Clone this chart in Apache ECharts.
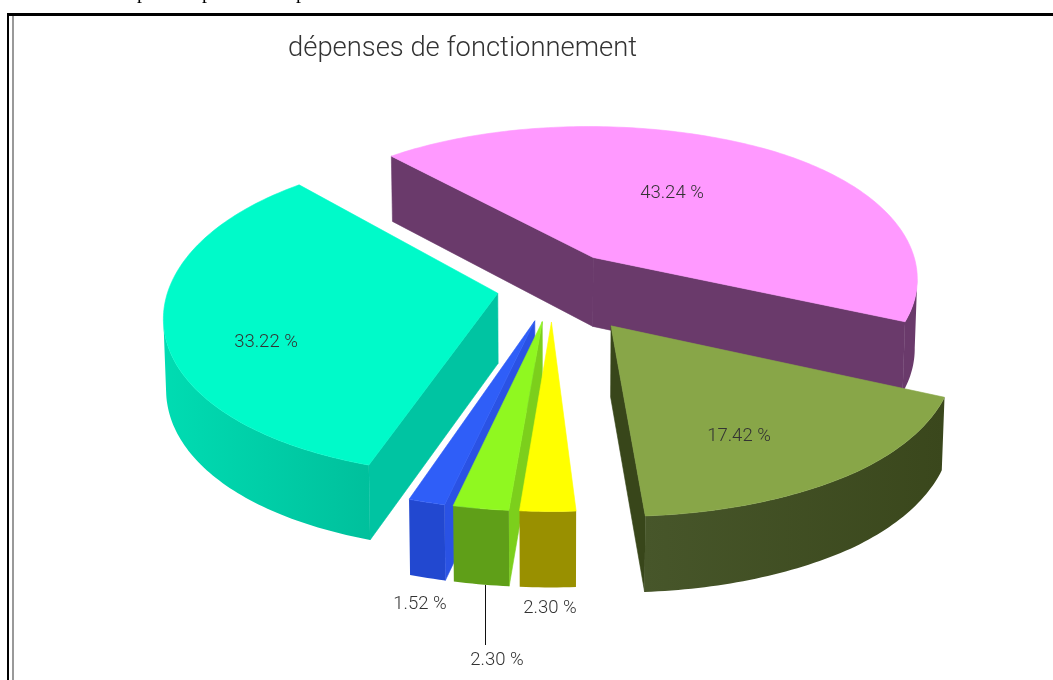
<!DOCTYPE html>
<html>
<head>
<meta charset="utf-8">
<style>
  html, body { margin: 0; padding: 0; background: #fff; }
  #chart { width: 1053px; height: 680px; }
</style>
<script src="https://cdn.jsdelivr.net/npm/echarts@6/dist/echarts.min.js"></script>
</head>
<body>
<div id="chart"></div>
<script>
// chart data
const categories = ['rose', 'olive', 'jaune', 'vert', 'bleu', 'turquoise'];
const shares = [43.24, 17.42, 2.30, 2.30, 1.52, 33.22];

// slice styles, same order as the data
const topColors = ['#ff99ff', '#88a648', '#ffff00', '#90f820', '#2f5ef8', '#00fac9'];
const wallLeft = ['#6a3a6b', '#47562a', '#999000', '#5f9f18', '#2248d0', '#00dcb2'];
const wallRight = ['#6a3a6b', '#3a471c', '#999000', '#5f9f18', '#2248d0', '#00c09c'];
const cutColors = ['#6a3a6b', '#38461a', '#999000', '#7ccf1c', '#2a52e4', '#00c4a2'];
const explode = [85, 93, 64, 64, 64, 56];
const pullTurn = [-5, -4.5, 0, 0, 0, 7];
const drawOrder = [0, 5, 1, 4, 3, 2];
const labelAnchors = [[672, 193], [739, 436], [550, 608], [497, 660], [420, 604], [266, 342]];

// projection of the tilted disc
const CX = 552, CY = 291, RADIUS = 340, TILT = 0.4728, PERSP = 3.82e-4;
const DEPTH = 70, DEPTH_PERSP = 2.1e-4, START_ANGLE = 228;

const FONT = "Roboto, 'Liberation Sans', sans-serif";

function project(u, v) {
  const s = 1 + PERSP * v;
  // the sides of the disc are a little narrower than a true ellipse
  const t = Math.min(1, Math.abs(v) / RADIUS);
  const pinch = 1 - 0.03 * (1 - t * t);
  return { x: CX + u * s * pinch, y: CY + v * TILT * s, v };
}

function lower(p) {
  return [p.x + (CX - p.x) * 0.007, p.y + DEPTH * (1 + DEPTH_PERSP * p.v)];
}

const total = shares.reduce((a, b) => a + b, 0);
const startAngles = [];
shares.reduce((angle, share, i) => {
  startAngles[i] = angle;
  return angle + (share / total) * 360;
}, START_ANGLE);

function renderSlice(params, api) {
  const i = api.value(0);
  const from = startAngles[i];
  const sweep = (shares[i] / total) * 360;
  const mid = ((from + sweep / 2 + pullTurn[i]) * Math.PI) / 180;
  const ou = Math.cos(mid) * explode[i];
  const ov = Math.sin(mid) * explode[i];

  const apex = project(ou, ov);
  const rim = [];
  const steps = Math.max(2, Math.ceil(sweep));
  for (let k = 0; k <= steps; k++) {
    const t = ((from + (sweep * k) / steps) * Math.PI) / 180;
    rim.push(project(ou + Math.cos(t) * RADIUS, ov + Math.sin(t) * RADIUS));
  }

  const children = [];
  const quad = (pts, fill) => children.push({
    type: 'polygon',
    shape: { points: pts },
    style: { fill, stroke: typeof fill === 'string' ? fill : null, lineWidth: 0.6 },
  });

  // side walls, only the ones turned towards the viewer
  const first = rim[0];
  const last = rim[rim.length - 1];
  if (first.x < apex.x) {
    quad([[apex.x, apex.y], [first.x, first.y], lower(first), lower(apex)], cutColors[i]);
  }
  if (apex.x < last.x) {
    quad([[last.x, last.y], [apex.x, apex.y], lower(apex), lower(last)], cutColors[i]);
  }
  const front = rim.filter((p, k) => (k < rim.length - 1 ? rim[k + 1].x < p.x : rim[k - 1].x > p.x));
  if (front.length > 1) {
    quad(
      front.map(p => [p.x, p.y]).concat(front.slice().reverse().map(lower)),
      new echarts.graphic.LinearGradient(0, 0, 1, 0, [
        { offset: 0, color: wallLeft[i] },
        { offset: 1, color: wallRight[i] },
      ]),
    );
  }

  // top face
  quad([[apex.x, apex.y]].concat(rim.map(p => [p.x, p.y])), topColors[i]);

  return { type: 'group', children };
}

function renderLabel(params, api) {
  const i = api.value(0);
  return {
    type: 'text',
    x: labelAnchors[i][0],
    y: labelAnchors[i][1],
    style: {
      text: `${shares[i].toFixed(2)} %`,
      fill: '#333',
      font: `300 18.5px ${FONT}`,
      align: 'center',
      verticalAlign: 'middle',
    },
  };
}

const chart = echarts.init(document.getElementById('chart'), null, { renderer: 'canvas' });

chart.setOption({
  animation: false,
  backgroundColor: '#fff',
  title: {
    text: 'dépenses de fonctionnement',
    left: 288,
    top: 36,
    padding: 0,
    textStyle: {
      color: '#333',
      fontWeight: 300,
      fontSize: 27.4,
      fontFamily: FONT,
    },
  },
  series: [
    {
      type: 'custom',
      name: 'parts',
      coordinateSystem: 'none',
      silent: true,
      data: drawOrder.map(i => [i, shares[i], categories[i]]),
      renderItem: renderSlice,
      z: 2,
    },
    {
      type: 'custom',
      name: 'labels',
      coordinateSystem: 'none',
      silent: true,
      data: shares.map((s, i) => [i, s]),
      renderItem: renderLabel,
      z: 3,
    },
  ],
  graphic: [
    // page frame around the picture
    { type: 'rect', shape: { x: 7, y: 13, width: 1046, height: 3 }, style: { fill: '#000' }, silent: true },
    { type: 'rect', shape: { x: 7, y: 13, width: 2, height: 667 }, style: { fill: '#000' }, silent: true },
    { type: 'rect', shape: { x: 12, y: 16, width: 2, height: 664 }, style: { fill: '#999' }, silent: true },
    // leader of the green slice
    { type: 'line', shape: { x1: 485.5, y1: 585, x2: 485.5, y2: 645 }, style: { stroke: '#111', lineWidth: 1 }, silent: true, z: 4 },
    // cut off line of the page text above the frame
    { type: 'text', x: 137, y: -17, style: { text: 'p', fill: '#000', font: "20px 'Liberation Serif', serif" }, silent: true },
    { type: 'text', x: 202, y: -17, style: { text: 'p', fill: '#000', font: "20px 'Liberation Serif', serif" }, silent: true },
    { type: 'text', x: 296, y: -17, style: { text: 'p', fill: '#000', font: "20px 'Liberation Serif', serif" }, silent: true },
  ],
});
</script>
</body>
</html>
